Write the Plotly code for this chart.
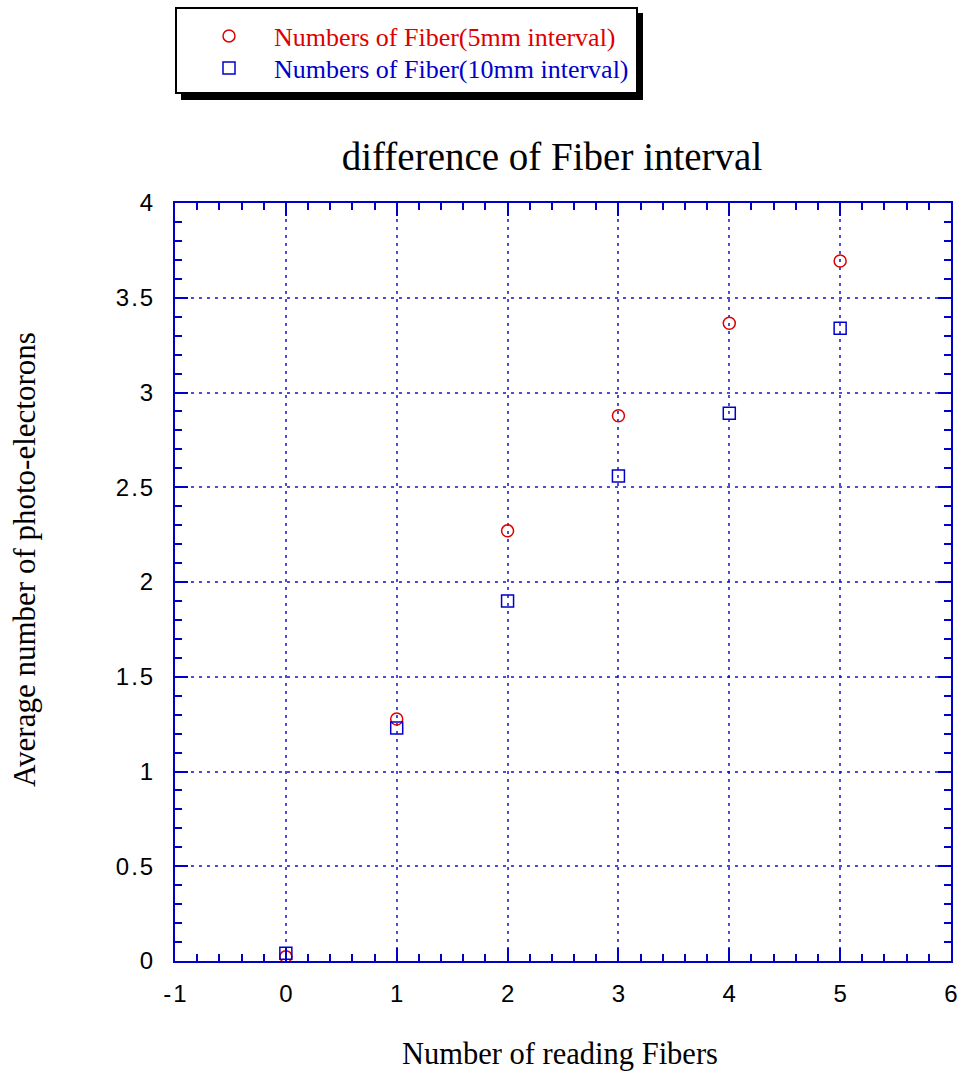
import plotly.graph_objects as go

# ---- data ----
fibers = [0, 1, 2, 3, 4, 5]
pe_5mm = [0.023, 1.277, 2.27, 2.877, 3.365, 3.694]
pe_10mm = [0.041, 1.23, 1.90, 2.56, 2.890, 3.339]
name_5mm = "Numbers of Fiber(5mm interval)"
name_10mm = "Numbers of Fiber(10mm interval)"
title_text = "difference of Fiber interval"
x_title = "Number of reading Fibers"
y_title = "Average number of photo-electorons"
x_tickvals = [-1, 0, 1, 2, 3, 4, 5, 6]
x_ticklabels = ["-1", "0", "1", "2", "3", "4", "5", "6"]
y_tickvals = [0, 0.5, 1, 1.5, 2, 2.5, 3, 3.5, 4]
y_ticklabels = ["0", "0.5", "1", "1.5", "2", "2.5", "3", "3.5", "4"]

RED = "#DD0000"
BLUE = "#0000CC"
HS = "\u200a"  # hair space to mimic letter spacing


def spaced(s):
    return HS.join(list(s))


fig = go.Figure()
fig.add_trace(go.Scatter(
    x=fibers, y=pe_5mm, mode="markers", name=f'<span style="color:{RED}">{name_5mm}</span>',
    marker=dict(symbol="circle-open", size=12, color=RED, line=dict(width=1.5, color=RED)),
    legend="legend",
))
fig.add_trace(go.Scatter(
    x=fibers, y=pe_10mm, mode="markers", name=f'<span style="color:{BLUE}">{name_10mm}</span>',
    marker=dict(symbol="square-open", size=12, color=BLUE, line=dict(width=1.5, color=BLUE)),
    legend="legend2",
))

W, H = 963, 1080
L, R, T, B = 175, 12, 203, 119
PW, PH = W - L - R, H - T - B


def px_x(px):
    return (px - L) / PW


def px_y(py):
    return (H - B - py) / PH


grid_common = dict(
    showgrid=True, gridcolor="rgba(0,0,204,0.7)", gridwidth=1.5, griddash="3px,5px",
    zeroline=False, showline=True, linecolor=BLUE, linewidth=2, mirror="ticks",
    ticks="inside", ticklen=13, tickwidth=1.5, tickcolor=BLUE, automargin=False,
    tickfont=dict(family="Liberation Sans, Arial", size=24, color="black"),
)

fig.update_xaxes(
    range=[-1, 6], tickmode="array", tickvals=x_tickvals,
    ticktext=[spaced(t) for t in x_ticklabels],
    minor=dict(ticks="inside", ticklen=7, tickwidth=1.5, tickcolor=BLUE, dtick=0.2, showgrid=False),
    ticklabelstandoff=10,
    **grid_common,
)
fig.update_yaxes(
    range=[0, 4], tickmode="array", tickvals=y_tickvals,
    ticktext=[spaced(t) for t in y_ticklabels],
    minor=dict(ticks="inside", ticklen=7, tickwidth=1.5, tickcolor=BLUE, dtick=0.1, showgrid=False),
    ticklabelstandoff=15,
    **grid_common,
)

legend_common = dict(
    bgcolor="rgba(0,0,0,0)", borderwidth=0, xanchor="left", yanchor="middle",
    itemwidth=80, font=dict(family="Liberation Serif, Times New Roman", size=26),
)

fig.update_layout(
    width=W, height=H,
    margin=dict(l=L, r=R, t=T, b=B, autoexpand=False),
    paper_bgcolor="white", plot_bgcolor="white",
    showlegend=True,
    legend=dict(x=px_x(184), y=px_y(36), **legend_common),
    legend2=dict(x=px_x(184), y=px_y(68), **legend_common),
    title=dict(
        text=title_text, x=px_x(552), xanchor="center", xref="paper",
        y=1 - 156 / H, yanchor="middle", yref="container",
        font=dict(family="Liberation Serif, Times New Roman", size=39, color="black"),
    ),
    shapes=[
        dict(type="rect", xref="paper", yref="paper",
             x0=px_x(181), x1=px_x(643), y0=px_y(100), y1=px_y(13),
             fillcolor="black", line=dict(width=0), layer="below"),
        dict(type="rect", xref="paper", yref="paper",
             x0=px_x(176), x1=px_x(637), y0=px_y(93), y1=px_y(8),
             fillcolor="white", line=dict(width=2, color="black"), layer="below"),
    ],
    annotations=[
        dict(text=x_title, xref="paper", yref="paper", x=px_x(560), y=px_y(1054),
             xanchor="center", yanchor="middle", showarrow=False,
             font=dict(family="Liberation Serif, Times New Roman", size=30.5, color="black")),
        dict(text=y_title, xref="paper", yref="paper", x=px_x(24), y=px_y(560),
             xanchor="center", yanchor="middle", showarrow=False, textangle=-90,
             font=dict(family="Liberation Serif, Times New Roman", size=31, color="black")),
    ],
)

fig.write_html("out.html")
